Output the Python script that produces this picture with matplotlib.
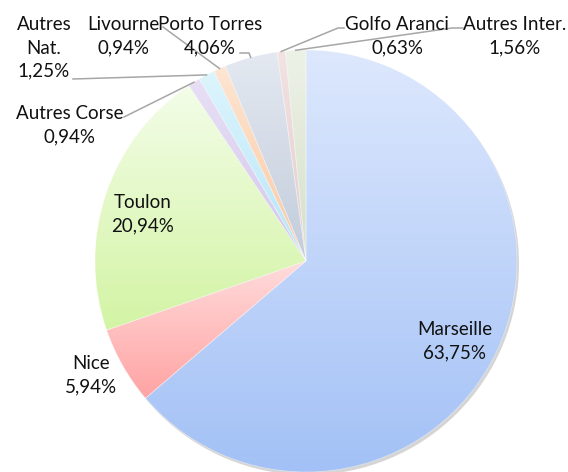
import matplotlib.pyplot as plt
import numpy as np
from matplotlib.colors import LinearSegmentedColormap
from matplotlib.patches import Circle

# data
ports = ['Marseille', 'Nice', 'Toulon', 'Autres Corse', 'Autres\nNat.', 'Livourne',
         'Porto Torres', 'Golfo Aranci', 'Autres Inter.']
shares = [63.75, 5.94, 20.94, 0.94, 1.25, 0.94, 4.06, 0.63, 1.56]

# gradient colours (top, bottom) per slice
tops = ['#dde8fd', '#ffdcdc', '#f3fde8', '#e8e0f5', '#ddf5fd', '#fde6d3', '#e4e9f1', '#f3e3e3', '#edf2e7']
bottoms = ['#a3c1f6', '#ffa3a3', '#d3f4a4', '#d2c6ec', '#b6e5f8', '#fbc7a0', '#c2ccdb', '#e4caca', '#d5dfca']

W, H = 568, 472
cx, cy, r = 306, H - 261, 211

# label block centres (pixels from top-left) and leader line start points
label_pos = [(455, 341), (91, 375), (143, 214), (70, 125), (44, 48), (123, 36), (210, 36), (397, 36), (515, 36)]
leader_from = [None, None, None, [(124, 117)], [(73, 79)], [(163, 27)], [(240, 53), (249, 53)],
               [(344, 28), (338, 28)], [(463, 28), (452, 28)]]

fig = plt.figure(figsize=(W / 100, H / 100), dpi=100)
ax = fig.add_axes([0, 0, 1, 1])

wedges, _ = ax.pie(shares, startangle=90, counterclock=False, radius=r, center=(cx, cy),
                   wedgeprops=dict(linewidth=0.5, edgecolor=(1, 1, 1, 0.45)))

ax.add_patch(Circle((cx + 2, cy - 3), r, color='#888888', alpha=0.35, zorder=0, lw=0))

for w, c1, c2 in zip(wedges, tops, bottoms):
    bb = w.get_path().get_extents()
    cmap = LinearSegmentedColormap.from_list('g', [c2, c1])
    grad = np.linspace(0, 1, 256).reshape(-1, 1)
    im = ax.imshow(grad, cmap=cmap, extent=[bb.x0, bb.x1, bb.y0, bb.y1], origin='lower',
                   aspect='auto', zorder=1, interpolation='bilinear')
    im.set_clip_path(w)
    w.set_facecolor('none')
    w.set_zorder(2)

for i, (name, v) in enumerate(zip(ports, shares)):
    x, y = label_pos[i]
    txt = name + '\n' + f'{v:.2f}'.replace('.', ',') + '%'
    ax.text(x, H - y, txt, ha='center', va='center', multialignment='center',
            fontsize=13.5, family='Lato', color='#111111', linespacing=1.45, zorder=5)
    if leader_from[i]:
        w = wedges[i]
        mid = np.deg2rad((w.theta1 + w.theta2) / 2)
        ex, ey = cx + r * np.cos(mid), cy + r * np.sin(mid)
        xs = [p[0] for p in leader_from[i]] + [ex]
        ys = [H - p[1] for p in leader_from[i]] + [ey]
        ax.plot(xs, ys, color='#a6a6a6', lw=1.1, zorder=4)

ax.set_xlim(0, W)
ax.set_ylim(0, H)
ax.set_aspect('auto')
ax.axis('off')

fig.savefig('out.png', dpi=100)
